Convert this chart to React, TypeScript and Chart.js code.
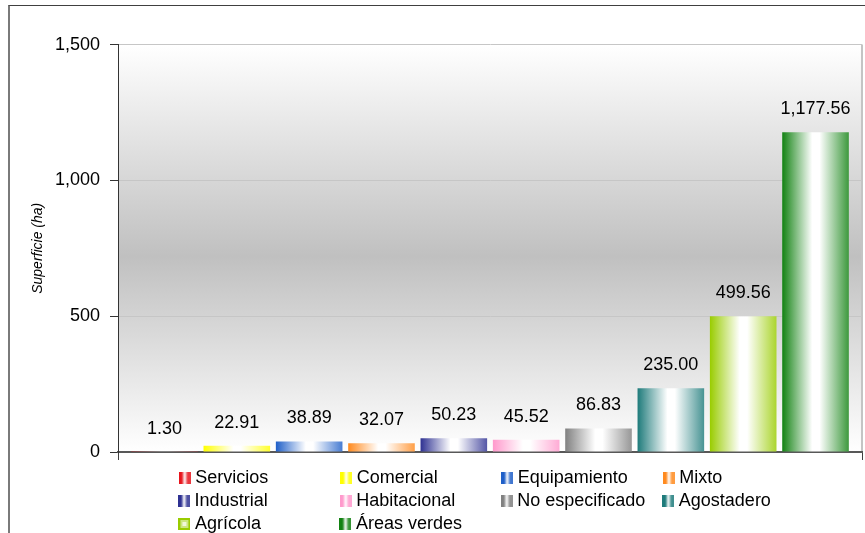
import React, { useEffect, useRef } from 'react';
import { Chart, registerables } from 'chart.js';

Chart.register(...registerables);

// ---- data ----
const categories = [
  'Servicios',
  'Comercial',
  'Equipamiento',
  'Mixto',
  'Industrial',
  'Habitacional',
  'No especificado',
  'Agostadero',
  'Agrícola',
  'Áreas verdes',
];
const values = [1.3, 22.91, 38.89, 32.07, 50.23, 45.52, 86.83, 235.0, 499.56, 1177.56];
const barColors = [
  '#e8141c',
  '#ffff00',
  '#1f5fc8',
  '#ff8a1e',
  '#2e3192',
  '#ff99cc',
  '#808080',
  '#1e7b7b',
  '#99cc00',
  '#128212',
];
const yTicks = [0, 500, 1000, 1500];
const yTitle = 'Superficie (ha)';

// ---- style constants ----
const FAMILY = '"Liberation Sans", Arial, sans-serif';
const FS = 18;
const TITLE_FS = 14;
const CAT_PCT = 0.9723;
const BAR_PCT = 0.9206;
const LEG_PAD = 5;
const LEG_BOX = 3;
const COL_W = 161.7;
const LAST_W = 134.9;

function hexToRgb(h: string) {
  const n = parseInt(h.slice(1), 16);
  return [(n >> 16) & 255, (n >> 8) & 255, n & 255];
}
function mixWhite(h: string, t: number) {
  const [r, g, b] = hexToRgb(h);
  const m = (c: number) => Math.round(c + (255 - c) * t);
  return `rgb(${m(r)},${m(g)},${m(b)})`;
}

function makeLegendImage(color: string, square: boolean) {
  const c = document.createElement('canvas');
  c.width = 12;
  c.height = 12;
  const x = c.getContext('2d')!;
  if (square) {
    x.fillStyle = color;
    x.fillRect(0, 0, 12, 12);
    x.fillStyle = mixWhite(color, 0.5);
    x.fillRect(2, 2, 8, 8);
    x.fillStyle = mixWhite(color, 0.85);
    x.fillRect(4, 4, 4, 4);
  } else {
    const g = x.createLinearGradient(0, 0, 12, 0);
    g.addColorStop(0, color);
    g.addColorStop(0.25, color);
    g.addColorStop(0.5, '#ffffff');
    g.addColorStop(0.75, mixWhite(color, 0.15));
    g.addColorStop(1, mixWhite(color, 0.15));
    x.fillStyle = g;
    x.fillRect(0, 0, 12, 12);
  }
  return c;
}

function padTo(ctx: CanvasRenderingContext2D, s: string, target: number) {
  let t = s;
  let guard = 0;
  while (ctx.measureText(t + ' ').width <= target && guard++ < 300) t += ' ';
  const hair = '\u200A';
  const hw = ctx.measureText(t + hair).width - ctx.measureText(t).width;
  if (hw > 0.05) {
    while (ctx.measureText(t + hair).width <= target + hw / 2 && guard++ < 600) t += hair;
  }
  return t;
}

function textTarget(i: number) {
  const extra = LEG_BOX + FS / 2 + LEG_PAD;
  if (i === 9) return 2 * COL_W + LAST_W - extra;
  const col = i % 4;
  if (col === 3) return LAST_W - extra;
  return COL_W - extra;
}

const fmtVal = (v: number) =>
  v.toLocaleString('en-US', { minimumFractionDigits: 2, maximumFractionDigits: 2 });

const plotBackground = {
  id: 'plotBackground',
  beforeDraw(chart: any) {
    const { ctx, chartArea: a } = chart;
    ctx.save();
    ctx.fillStyle = '#ffffff';
    ctx.fillRect(0, 0, chart.width, chart.height);
    const g = ctx.createLinearGradient(0, a.top, 0, a.bottom);
    g.addColorStop(0, '#ffffff');
    g.addColorStop(0.52, '#c0c0c0');
    g.addColorStop(1, '#ffffff');
    ctx.fillStyle = g;
    ctx.fillRect(a.left, a.top, a.right - a.left, a.bottom - a.top);
    ctx.strokeStyle = '#c4c4c4';
    ctx.lineWidth = 2;
    ctx.beginPath();
    ctx.moveTo(a.right, a.top);
    ctx.lineTo(a.right, a.bottom);
    ctx.stroke();
    ctx.restore();
  },
};

const valueLabels = {
  id: 'valueLabels',
  afterDatasetsDraw(chart: any) {
    const { ctx } = chart;
    ctx.save();
    ctx.font = `${FS}px ${FAMILY}`;
    ctx.fillStyle = '#000000';
    ctx.textAlign = 'center';
    ctx.textBaseline = 'middle';
    chart.data.datasets.forEach((ds: any, i: number) => {
      const meta = chart.getDatasetMeta(i);
      meta.data.forEach((el: any, j: number) => {
        ctx.fillText(fmtVal(ds.data[j]), el.x, el.y - 23);
      });
    });
    ctx.restore();
  },
};

export default function App() {
  const ref = useRef<HTMLCanvasElement>(null);

  useEffect(() => {
    if (!ref.current) return;
    Chart.defaults.font.family = FAMILY;
    Chart.defaults.font.size = FS;
    Chart.defaults.color = '#000000';

    const legendImages = categories.map((_, i) => makeLegendImage(barColors[i], i === 8));

    const gradientFor = (c: any) => {
      const chart = c.chart;
      const i = c.datasetIndex;
      const color = barColors[i];
      const a = chart.chartArea;
      const xs = chart.scales && chart.scales.x;
      if (!a || !xs) return color;
      const size = xs.width * CAT_PCT;
      const chunk = size / categories.length;
      const center = xs.getPixelForValue(0) - size / 2 + chunk * (i + 0.5);
      const w = chunk * BAR_PCT;
      const g = chart.ctx.createLinearGradient(center - w / 2, 0, center + w / 2, 0);
      g.addColorStop(0, color);
      g.addColorStop(0.45, '#ffffff');
      g.addColorStop(0.56, '#ffffff');
      g.addColorStop(1, mixWhite(color, 0.18));
      return g;
    };

    const chart = new Chart(ref.current, {
      type: 'bar',
      data: {
        labels: [''],
        datasets: categories.map((name, i) => ({
          label: name,
          data: [values[i]],
          backgroundColor: gradientFor,
          borderWidth: 0,
          categoryPercentage: CAT_PCT,
          barPercentage: BAR_PCT,
        })),
      },
      options: {
        responsive: false,
        animation: false,
        layout: { padding: { top: 38.6, right: 3, bottom: 0, left: 0 } },
        plugins: {
          tooltip: { enabled: false },
          legend: {
            position: 'bottom',
            fullSize: false,
            align: 'center',
            labels: {
              usePointStyle: true,
              boxWidth: LEG_BOX,
              padding: LEG_PAD,
              color: '#000000',
              font: { size: FS, family: FAMILY },
              generateLabels: (ch: any) => {
                const ctx = ch.ctx as CanvasRenderingContext2D;
                ctx.save();
                ctx.font = `${FS}px ${FAMILY}`;
                const items = categories.map((name, i) => ({
                  text: padTo(ctx, name, textTarget(i)),
                  fillStyle: barColors[i],
                  strokeStyle: 'rgba(0,0,0,0)',
                  lineWidth: 0,
                  hidden: !ch.isDatasetVisible(i),
                  datasetIndex: i,
                  pointStyle: legendImages[i],
                  fontColor: '#000000',
                }));
                ctx.restore();
                return items;
              },
            },
          },
        },
        scales: {
          x: {
            type: 'category',
            offset: true,
            ticks: { display: false },
            grid: {
              display: true,
              drawOnChartArea: false,
              drawTicks: true,
              tickLength: 8,
              color: '#404040',
              offset: true,
            },
            border: { display: true, color: '#585858', width: 2 },
            afterFit: (s: any) => {
              s.height = 12;
            },
          },
          y: {
            min: 0,
            max: 1500,
            afterBuildTicks: (s: any) => {
              s.ticks = yTicks.map((v) => ({ value: v }));
            },
            ticks: {
              padding: 10,
              color: '#000000',
              font: { size: FS },
              callback: (v: any) => Number(v).toLocaleString('en-US'),
            },
            grid: {
              color: '#c6c6c6',
              tickColor: '#333333',
              tickLength: 8,
              drawTicks: true,
            },
            border: { display: true, color: '#333333', width: 1 },
            title: {
              display: true,
              text: yTitle,
              color: '#000000',
              font: { size: TITLE_FS, style: 'italic' },
              padding: { top: 20.1, bottom: 0 },
            },
            afterFit: (s: any) => {
              s.width = 108;
            },
          },
        },
      },
      plugins: [plotBackground, valueLabels],
    } as any);

    return () => chart.destroy();
  }, []);

  return (
    <div
      style={{
        position: 'absolute',
        left: 8,
        top: 5,
        width: 857,
        height: 528,
        boxSizing: 'border-box',
        borderLeft: '2px solid #7a7a7a',
        borderTop: '1px solid #404040',
        overflow: 'hidden',
        background: '#ffffff',
      }}
    >
      <canvas ref={ref} width={855} height={537} style={{ display: 'block', width: 855, height: 537 }} />
    </div>
  );
}
